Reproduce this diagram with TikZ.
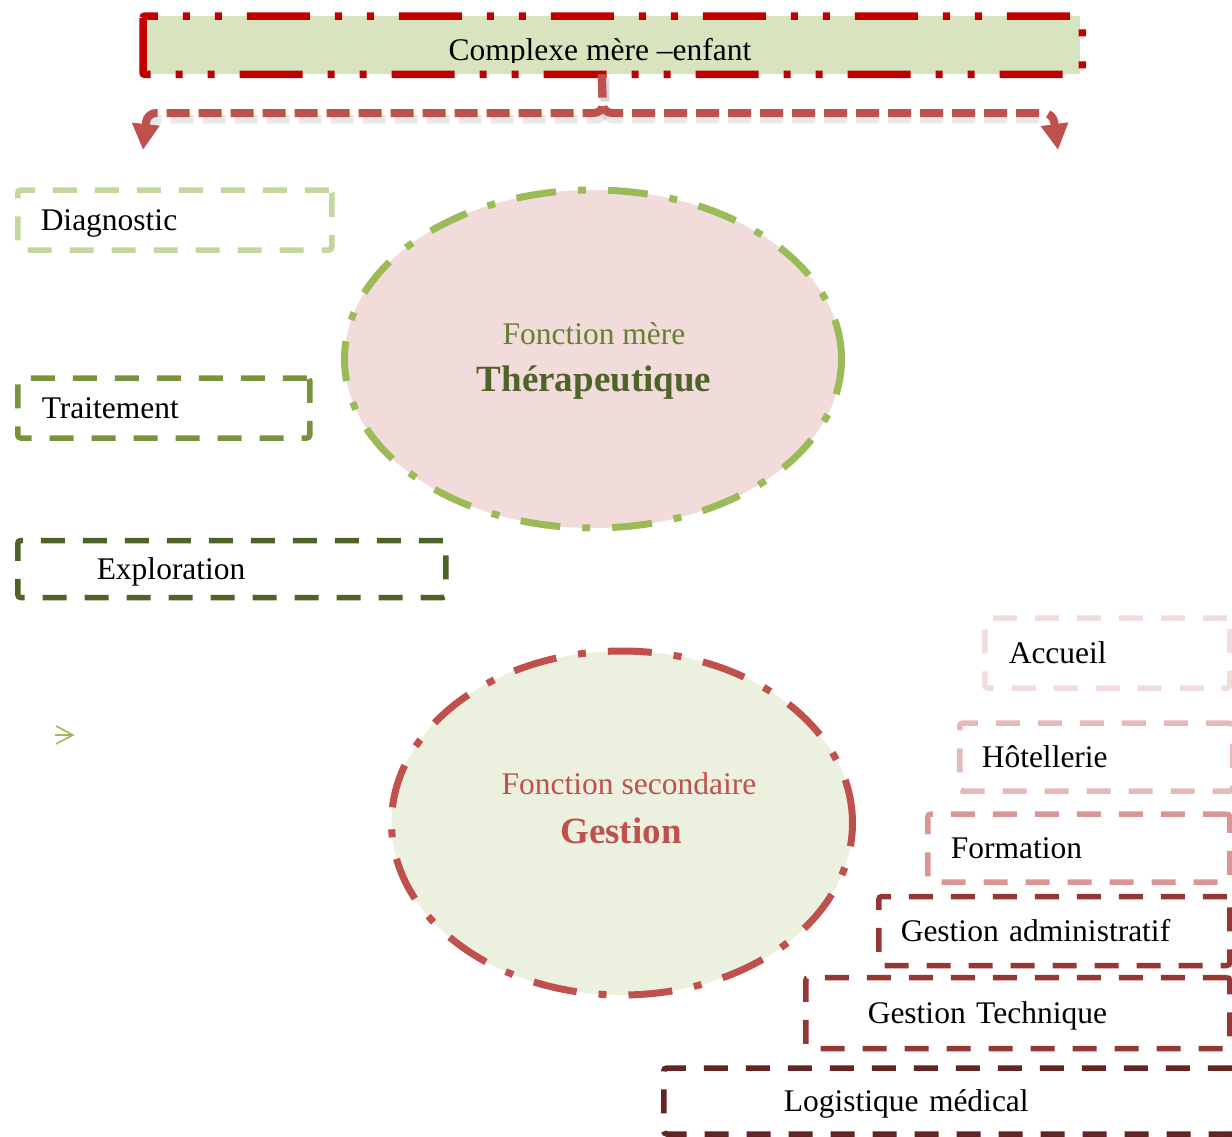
\documentclass[tikz,border=0pt]{standalone}
\usepackage{fontspec}
\setmainfont{Liberation Serif}
\usetikzlibrary{shapes.geometric,arrows.meta}
\definecolor{topfill}{HTML}{D7E4BD}
\definecolor{topred}{HTML}{C00000}
\definecolor{connc}{HTML}{C0504D}
\definecolor{diagc}{HTML}{C3D69B}
\definecolor{traitc}{HTML}{77933C}
\definecolor{exploc}{HTML}{4F6228}
\definecolor{ellafill}{HTML}{F2DCDB}
\definecolor{ellaline}{HTML}{9BBB59}
\definecolor{ellbfill}{HTML}{EBF1DE}
\definecolor{ellbline}{HTML}{C0504D}
\definecolor{txtgreen}{HTML}{4F6228}
\definecolor{txtgreenl}{HTML}{67802F}
\definecolor{accc}{HTML}{F2DCDB}
\definecolor{hotc}{HTML}{E6B9B8}
\definecolor{forc}{HTML}{D99694}
\definecolor{gadc}{HTML}{953735}
\definecolor{logc}{HTML}{632523}
\tikzset{
  txt/.style={font=\fontsize{31.5}{38}\selectfont},
  boldtxt/.style={font=\fontsize{37}{44}\selectfont\bfseries},
  dbox/.style={draw, line width=5.5pt, dash pattern=on 24pt off 18pt, rounded corners=3pt,
    anchor=west, align=left, inner ysep=0pt, txt, text=black, text height=21pt, text depth=0pt},
  fellipse/.style={ellipse, inner sep=0pt, line width=7pt, dash pattern=on 40pt off 22pt on 8pt off 22pt},
  conn/.style={draw=connc, line width=8pt, dash pattern=on 23pt off 9pt, rounded corners=9pt,
    -{Triangle[width=26pt,length=26pt]}},
  connshadow/.style={draw=black!50, opacity=0.18, line width=9pt, dash pattern=on 23pt off 9pt, rounded corners=9pt}
}
\begin{document}
\begin{tikzpicture}[x=1pt,y=-1pt]
\useasboundingbox (0,0) rectangle (1232,1136);

% top box
\node[fill=topfill, minimum width=935pt, minimum height=58pt, inner sep=0pt, anchor=north west] (complexe) at (145,16) {};
\begin{scope}
  \clip (145,16) rectangle (1080,62);
  \node[txt, anchor=base, inner sep=0pt] (complexetxt) at (600,60) {Complexe mère –enfant};
\end{scope}
\draw[topred, line width=7.5pt, dash pattern=on 63pt off 25pt on 7pt off 25pt on 7pt off 25pt, rounded corners=2pt]
  ([xshift=-2pt]complexe.north west) rectangle ([xshift=2pt]complexe.south east);

% connectors
\coordinate (tipL) at (143,150);
\coordinate (tipR) at (1058,150);
\draw[connshadow] ([shift={(-8pt,-4pt)}]complexe.south) -- (605,119) -- (152,119) -- (147,130);
\draw[connshadow] ([shift={(-8pt,-4pt)}]complexe.south) -- (605,119) -- (1057,119) -- (1061,130);
\draw[conn] ([xshift=-11pt]complexe.south) -- (603,113) -- (147,113) -- (tipL);
\draw[conn] ([xshift=-11pt]complexe.south) -- (603,113) -- (1053,113) -- (tipR);

% left boxes
\node[dbox, draw=diagc, text width=268pt, inner xsep=23pt, minimum height=60pt] (diag) at (15,220) {Diagnostic};
\node[dbox, draw=traitc, text width=244pt, inner xsep=24pt, minimum height=60pt] (trait) at (15,408) {Traitement};
\node[dbox, draw=exploc, inner xsep=79pt, minimum height=57pt, text width=270pt] (explo) at (15,569) {Exploration};

% ellipses
\node[fellipse, draw=ellaline, fill=ellafill, minimum width=497pt, minimum height=338pt] (ella) at (593,359) {};
\node[txt, text=txtgreenl] (ellat1) at (594,334) {Fonction mère};
\node[boldtxt, text=txtgreen] (ellat2) at (594,383) {Thérapeutique};

\node[fellipse, draw=ellbline, fill=ellbfill, minimum width=461pt, minimum height=344pt, dash pattern=on 44pt off 22pt on 8pt off 22pt] (ellb) at (622,823) {};
\node[txt, text=ellbline] (ellbt1) at (629,784) {Fonction secondaire};
\node[boldtxt, text=ellbline] (ellbt2) at (621,831) {Gestion};

% stray arrow glyph
\coordinate (glyph) at (55,735);
\draw[ellaline, line width=1.6pt] (glyph) -- ++(18,0);
\draw[ellaline, line width=1.6pt] ([shift={(1,-9)}]glyph) -- ++(17,9) -- ++(-17,9);

% right boxes
\node[dbox, draw=accc, text width=197pt, inner xsep=24pt, minimum height=70pt] (accueil) at (982,653) {Accueil};
\node[dbox, draw=hotc, text width=229pt, inner xsep=22pt, minimum height=68pt] (hotel) at (957,757) {Hôtellerie};
\node[dbox, draw=forc, text width=256pt, inner xsep=23pt, minimum height=68pt] (formation) at (925,848) {Formation};
\node[dbox, draw=gadc, text width=307pt, inner xsep=22pt, minimum height=69pt] (gadmin) at (876,931) {Gestion administratif};
\node[dbox, draw=gadc, text width=300pt, inner xsep=62pt, minimum height=71pt] (gtech) at (803,1013) {Gestion Technique};
\node[dbox, draw=logc, text width=331pt, inner xsep=120pt, minimum height=66pt] (logist) at (661,1101) {Logistique médical};
\end{tikzpicture}
\end{document}
